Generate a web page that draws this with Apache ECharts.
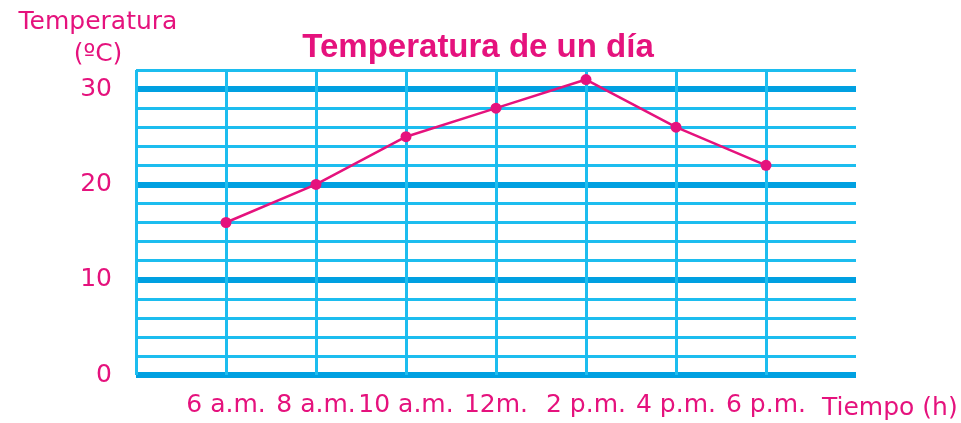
<!DOCTYPE html>
<html>
<head>
<meta charset="utf-8">
<script src="https://cdn.jsdelivr.net/npm/echarts@6/dist/echarts.min.js"></script>
<style>
  html, body { margin: 0; padding: 0; background: #fff; }
  #chart { width: 961px; height: 423px; }
</style>
</head>
<body>
<div id="chart"></div>
<script>
// Hours of the day (slot 0 and 8 are the empty margins of the grid)
const hourLabels = ['', '6 a.m.', '8 a.m.', '10 a.m.', '12m.', '2 p.m.', '4 p.m.', '6 p.m.', ''];
const hourSlots = [1, 2, 3, 4, 5, 6, 7];
const temperatures = [16, 20, 25, 28, 31, 26, 22];
const yTickLabels = [0, 10, 20, 30];

const PINK = '#e5127d';
const BLUE_THIN = '#1cbdef';
const BLUE_THICK = '#00a0e1';
const FONT = 'DejaVu Sans';

const chart = echarts.init(document.getElementById('chart'), null, { renderer: 'canvas' });

chart.setOption({
  animation: false,
  title: {
    text: 'Temperatura de un día',
    left: 473,
    textAlign: 'center',
    top: 26,
    textStyle: { color: PINK, fontSize: 33, fontWeight: 'bold', fontFamily: 'Liberation Sans' }
  },
  graphic: [
    {
      type: 'text', x: 98, y: 38,
      style: {
        text: 'Temperatura\n(ºC)', fill: PINK, font: '25px ' + FONT,
        align: 'center', verticalAlign: 'middle', lineHeight: 32
      }
    },
    {
      type: 'text', x: 822, y: 408,
      style: { text: 'Tiempo (h)', fill: PINK, font: '25px ' + FONT, verticalAlign: 'middle' }
    }
  ],
  grid: { left: 136, right: 105, top: 70, bottom: 48 },
  xAxis: {
    type: 'value',
    min: 0, max: 8, interval: 1,
    axisLine: { show: false },
    axisTick: { show: false },
    axisLabel: {
      color: PINK, fontSize: 25, fontFamily: FONT, margin: 18,
      formatter: v => hourLabels[v] || ''
    },
    splitLine: {
      show: true, showMaxLine: false,
      lineStyle: { color: BLUE_THIN, width: 3 }
    }
  },
  yAxis: [
    {
      type: 'value',
      min: 0, max: 32, interval: 2,
      axisLine: { show: false },
      axisTick: { show: false },
      axisLabel: { show: false },
      splitLine: { show: true, lineStyle: { color: BLUE_THIN, width: 3 } }
    },
    {
      type: 'value',
      position: 'left',
      min: 0, max: 32, interval: 10,
      axisLine: { show: false },
      axisTick: { show: false },
      axisLabel: {
        color: PINK, fontSize: 25, fontFamily: FONT, margin: 24,
        showMaxLabel: false,
        formatter: v => (yTickLabels.indexOf(v) >= 0 ? String(v) : '')
      },
      splitLine: { show: true, showMaxLine: false, lineStyle: { color: BLUE_THICK, width: 6 } }
    }
  ],
  series: [
    {
      type: 'line',
      yAxisIndex: 0,
      data: hourSlots.map((h, i) => [h, temperatures[i]]),
      symbol: 'circle',
      symbolSize: 11,
      lineStyle: { color: PINK, width: 2.5 },
      itemStyle: { color: PINK },
      z: 10
    }
  ]
});
</script>
</body>
</html>
